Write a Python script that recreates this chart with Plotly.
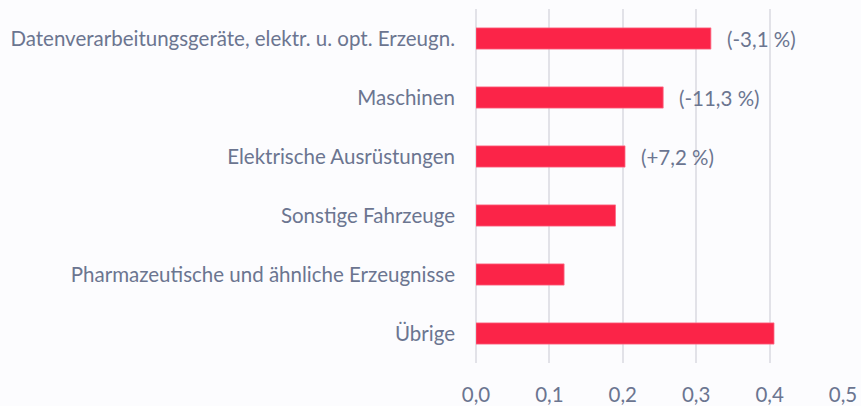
import plotly.graph_objects as go

categories = [
    "Datenverarbeitungsgeräte, elektr. u. opt. Erzeugn.",
    "Maschinen",
    "Elektrische Ausrüstungen",
    "Sonstige Fahrzeuge",
    "Pharmazeutische und ähnliche Erzeugnisse",
    "Übrige",
]
values = [0.32, 0.255, 0.203, 0.19, 0.12, 0.406]
changes = ["(-3,1 %)", "(-11,3 %)", "(+7,2 %)", "", "", ""]
tick_vals = [0, 0.1, 0.2, 0.3, 0.4, 0.5]

font_family = "Source Sans Pro, Lato, Noto Sans, sans-serif"
text_color = "#6b7590"
fsize = 20.5

fig = go.Figure(go.Bar(
    x=values,
    y=categories,
    orientation="h",
    width=0.36,
    marker=dict(color="#fb2448", line=dict(color="#fb6a84", width=0.8)),
    hoverinfo="skip",
))

for c, v, t in zip(categories, values, changes):
    if t:
        fig.add_annotation(x=v, y=c, text=t, showarrow=False, xanchor="left",
                           xshift=14, font=dict(size=fsize, color=text_color, family=font_family))

fig.update_layout(
    width=861, height=406,
    margin=dict(l=476, r=18, t=9, b=43, autoexpand=False),
    paper_bgcolor="#fcfcfe",
    plot_bgcolor="#fcfcfe",
    separators=",.",
    showlegend=False,
    font=dict(family=font_family, size=fsize, color=text_color),
)
fig.update_xaxes(
    range=[0, 0.5],
    tickvals=tick_vals,
    tickformat=".1f",
    showgrid=True, gridcolor="#e2e2e8", gridwidth=2,
    zeroline=True, zerolinecolor="#e2e2e8", zerolinewidth=2,
    showline=False,
    ticklabelstandoff=17,
    fixedrange=True,
)
fig.update_yaxes(
    categoryorder="array",
    categoryarray=categories[::-1],
    showgrid=False,
    ticklabelstandoff=20,
    fixedrange=True,
)

fig.write_html("out.html", config={"displayModeBar": False},
               post_script="document.body.style.margin='0';document.body.style.background='#fcfcfe';")
